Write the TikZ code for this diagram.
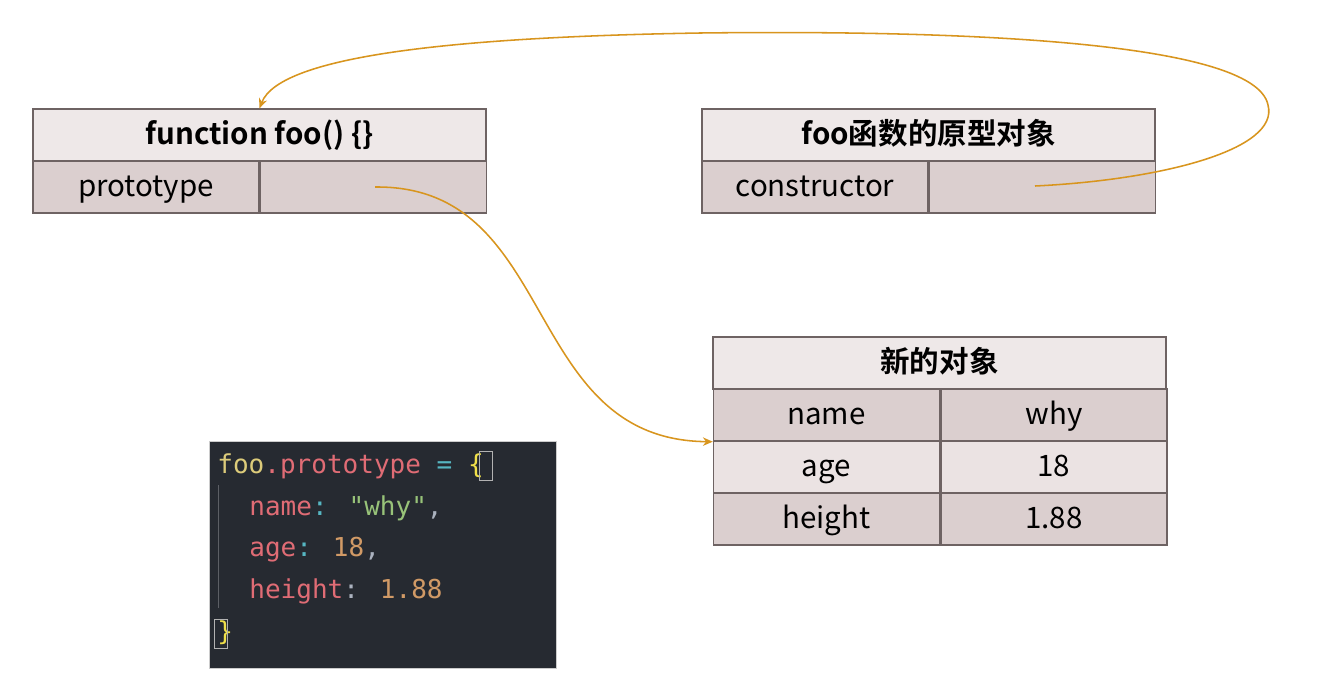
\documentclass[tikz,border=0pt]{standalone}
\usepackage{fontspec}
\setmainfont{Noto Sans CJK SC}[BoldFont={Noto Sans CJK SC Bold}]
\newfontfamily\codefont{DejaVu Sans Mono}
\usepackage{xcolor}
\usetikzlibrary{arrows.meta}
\usetikzlibrary{positioning}

\definecolor{cellline}{HTML}{6E6363}
\definecolor{headfill}{HTML}{EEE8E8}
\definecolor{darkrow}{HTML}{DBCFCF}
\definecolor{lightrow}{HTML}{EBE3E3}
\definecolor{linkcol}{HTML}{D8951E}
\definecolor{codebg}{HTML}{262A31}
\definecolor{cYellow}{HTML}{DCCB7A}
\definecolor{cBrace}{HTML}{F0E04A}
\definecolor{cRed}{HTML}{E06C75}
\definecolor{cCyan}{HTML}{56B6C2}
\definecolor{cGreen}{HTML}{98C379}
\definecolor{cPlain}{HTML}{ABB2BF}
\definecolor{cNum}{HTML}{D19A66}

\begin{document}
\begin{tikzpicture}[x=0.025cm,y=-0.025cm,node distance=1.3cm,semithick]
  \tikzstyle{cell}=[draw=cellline, line width=1pt, rectangle, inner sep=0pt,
                    minimum height=1.3cm, text height=17pt, text depth=3pt,
                    font=\fontsize{21}{24}\selectfont]
  \tikzstyle{head}=[cell, fill=headfill, minimum width=11.325cm, font=\fontsize{21}{24}\selectfont\bfseries]
  \tikzstyle{key}=[cell, minimum width=5.65cm]
  \tikzstyle{link}=[draw=linkcol, line width=1.1pt, -{Stealth[length=7pt,width=6pt]}]
  \tikzstyle{codeline}=[anchor=west, inner sep=0pt, font=\codefont\fontsize{18.5}{22}\selectfont]

  \useasboundingbox[fill=white] (0,0) rectangle (1329,685);

  % function foo
  \node[head] (fooHead) at (259.5,135) {function foo() \{\}};
  \node[key, fill=darkrow] (fooKey) at (146,187) {prototype};
  \node[key, fill=darkrow] (fooVal) [right=0pt of fooKey] {};

  % prototype object
  \node[head] (protoHead) at (928.5,135) {foo函数的原型对象};
  \node[key, fill=darkrow] (protoKey) at (815,187) {constructor};
  \node[key, fill=darkrow] (protoVal) [right=0pt of protoKey] {};

  % new object
  \node[head] (objHead) at (939.5,363) {新的对象};
  \node[key, fill=darkrow] (objK1) at (826.5,415) {name};
  \node[key, fill=lightrow] (objK2) [below of=objK1] {age};
  \node[key, fill=darkrow] (objK3) [below of=objK2] {height};
  \node[key, fill=darkrow] (objV1) [right=0pt of objK1] {why};
  \node[key, fill=lightrow] (objV2) [right=0pt of objK2] {18};
  \node[key, fill=darkrow] (objV3) [right=0pt of objK3] {1.88};

  % links
  \coordinate (protoPtr) at (375,187);
  \coordinate (ctorPtr) at (1035,186);
  \draw[link] (protoPtr) .. controls (560,185) and (520,440) .. (objK1.south west);
  \draw[link] (ctorPtr) .. controls (1160,180) and (1280,150) .. (1268,105)
                        .. controls (1255,40) and (950,30) .. (700,33)
                        .. controls (460,37) and (280,55) .. (fooHead.north);

  % code
  \node[fill=codebg, draw=gray!40, line width=0.4pt, minimum width=8.675cm, minimum height=5.675cm,
        inner sep=0pt] (codeBox) at (382.5,554.5) {};
  \draw[color=white!25!codebg, line width=0.6pt] (218,485) -- (218,608);
  \node[codeline] (code1) at (217,466) {\textcolor{cYellow}{foo}\textcolor{cRed}{.prototype} \textcolor{cCyan}{=} \textcolor{cBrace}{\{}};
  \node[codeline] (code2) at (249,508) {\textcolor{cRed}{name}\textcolor{cCyan}{:} \textcolor{cGreen}{"why"}\textcolor{cPlain}{,}};
  \node[codeline] (code3) at (249,550) {\textcolor{cRed}{age}\textcolor{cCyan}{:} \textcolor{cNum}{18}\textcolor{cPlain}{,}};
  \node[codeline] (code4) at (249,591) {\textcolor{cRed}{height}\textcolor{cPlain}{:} \textcolor{cNum}{1.88}};
  \node[codeline] (code5) at (217,633) {\textcolor{cBrace}{\}}};
  \draw[gray!60, line width=0.4pt] (479,451) rectangle (492,480);
  \draw[gray!60, line width=0.4pt] (214,619) rectangle (227,648);
\end{tikzpicture}
\end{document}
